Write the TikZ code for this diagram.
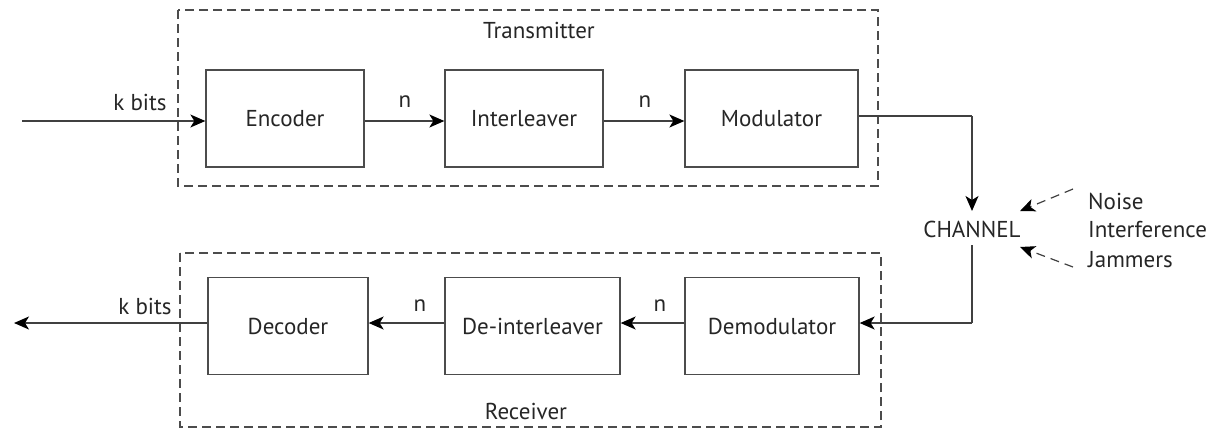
\documentclass[tikz,border=0pt]{standalone}
\usepackage{fontspec}
\setmainfont{PT Sans}
\usetikzlibrary{arrows.meta}
\begin{document}
\begin{tikzpicture}[x=1pt,y=-1pt,
  blk/.style={draw=black!70, line width=1.3pt, minimum width=#1, minimum height=97pt, inner sep=0pt, font=\fontsize{23}{26}\selectfont},
  grp/.style={draw=black!70, line width=1.2pt, dash pattern=on 9pt off 5pt},
  wire/.style={draw=black!75, line width=1.3pt},
  tip/.style={-{Stealth[length=15pt,width=13pt,inset=4pt,black]}},
  arr/.style={wire, tip},
  darr/.style={draw=black!75, line width=1.2pt, dash pattern=on 9pt off 6pt, tip},
  lbl/.style={font=\fontsize{23}{26}\selectfont, inner sep=0pt, text=black!85}
]
\useasboundingbox (0,0) rectangle (1222,432);
% group boxes
\draw[grp] (178,10) rectangle (878,186);
\draw[grp] (180,253) rectangle (881,427);
\node[lbl] (tx) at (539,30) {Transmitter};
\node[lbl] (rx) at (526,411) {Receiver};
% blocks
\node[blk=158pt, text=black!85] (enc) at (285,118.5) {Encoder};
\node[blk=158pt, text=black!85] (int) at (524,118.5) {Interleaver};
\node[blk=173pt, text=black!85] (mod) at (771.5,118.5) {Modulator};
\node[blk=160pt, text=black!85] (dec) at (288,326) {Decoder};
\node[blk=175pt, text=black!85] (dei) at (532.5,326) {De-interleaver};
\node[blk=174pt, text=black!85] (dem) at (772,326) {Demodulator};
% channel
\node[lbl] (ch) at (972,229) {CHANNEL};
\node[lbl, anchor=west] (noise) at (1088,201) {Noise};
\node[lbl, anchor=west] (interf) at (1088,230) {Interference};
\node[lbl, anchor=west] (jam) at (1088,260) {Jammers};
\coordinate (in) at (22,121);
\coordinate (out) at (14,323);
\coordinate (mo) at (mod.east |- 0,116);
\coordinate (corner1) at (972,116);
\coordinate (chtop) at (972,211);
\coordinate (chbot) at (972,245);
\coordinate (corner2) at (972,323);
\coordinate (ns) at (1073,189);
\coordinate (nt) at (1020,211);
\coordinate (js) at (1073,267);
\coordinate (jt) at (1020,247);
% top row
\draw[arr] (in) -- (enc.west |- in);
\draw[arr] (enc.east |- 0,121) -- (int.west |- 0,121);
\draw[arr] (int.east |- 0,121) -- (mod.west |- 0,121);
\node[lbl] (kb1) at (140,102) {k bits};
\node[lbl] (n1) at (405,102) {n};
\node[lbl] (n2) at (645,102) {n};
% to channel
\draw[wire] (mo) -- (corner1);
\draw[arr] (corner1) -- (chtop);
\draw[wire] (chbot) -- (corner2);
\draw[arr] (corner2) -- (dem.east |- corner2);
% bottom row
\draw[arr] (dem.west |- 0,323) -- (dei.east |- 0,323);
\draw[arr] (dei.west |- 0,323) -- (dec.east |- 0,323);
\draw[arr] (dec.west |- out) -- (out);
\node[lbl] (kb2) at (145,306) {k bits};
\node[lbl] (n3) at (420,306) {n};
\node[lbl] (n4) at (660,306) {n};
% disturbances
\draw[darr] (ns) -- (nt);
\draw[darr] (js) -- (jt);
\end{tikzpicture}
\end{document}
